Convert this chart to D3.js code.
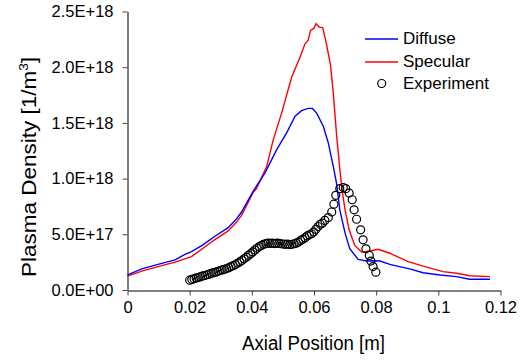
<!DOCTYPE html>
<html>
<head>
<meta charset="utf-8">
<script src="https://cdn.jsdelivr.net/npm/d3@7"></script>
<style>
  html, body { margin: 0; padding: 0; background: #fff; }
  svg { display: block; font-family: "Liberation Sans", Arial, sans-serif; }
</style>
</head>
<body>
<svg id="chart" width="521" height="360"></svg>
<script>
// ---- Data (density in units of 1E+18 1/m^3, position in m) ----
const xTickValues = [0, 0.02, 0.04, 0.06, 0.08, 0.1, 0.12];
const xTickLabels = ["0", "0.02", "0.04", "0.06", "0.08", "0.1", "0.12"];
const yTickValues = [0, 0.5, 1.0, 1.5, 2.0, 2.5];
const yTickLabels = ["0.0E+00", "5.0E+17", "1.0E+18", "1.5E+18", "2.0E+18", "2.5E+18"];

const diffuseX = [0, 0.0046, 0.0098, 0.0153, 0.0185, 0.0206, 0.024, 0.0265, 0.028, 0.0324, 0.0351, 0.0367, 0.0405,
  0.0442, 0.048, 0.0512, 0.0539, 0.056, 0.0581, 0.0595, 0.0608, 0.063, 0.0646, 0.0662, 0.0673, 0.0683, 0.070,
  0.0715, 0.0742, 0.0769, 0.079, 0.0812, 0.0844, 0.0875, 0.0908, 0.0951, 0.1005, 0.1059, 0.110, 0.1166];
const diffuseY = [0.135, 0.19, 0.23, 0.27, 0.32, 0.345, 0.40, 0.45, 0.48, 0.56, 0.64, 0.70, 0.89,
  1.05, 1.26, 1.41, 1.56, 1.61, 1.63, 1.63, 1.59, 1.47, 1.32, 1.11, 0.95, 0.72, 0.51,
  0.37, 0.275, 0.26, 0.262, 0.26, 0.23, 0.21, 0.19, 0.155, 0.135, 0.12, 0.096, 0.096];

const specularX = [0, 0.0046, 0.0098, 0.0153, 0.0206, 0.0265, 0.028, 0.0324, 0.0351, 0.0367, 0.0405, 0.0415,
  0.0448, 0.0469, 0.0496, 0.0528, 0.0555, 0.0571, 0.0581, 0.0589, 0.060, 0.0606, 0.0617, 0.0628, 0.064,
  0.0653, 0.0662, 0.0673, 0.0683, 0.069, 0.070, 0.0713, 0.0731, 0.0753, 0.078, 0.0806, 0.0844, 0.0875,
  0.0903, 0.0951, 0.1015, 0.1059, 0.110, 0.1166];
const specularY = [0.125, 0.17, 0.21, 0.25, 0.30, 0.42, 0.45, 0.53, 0.61, 0.67, 0.88, 0.91,
  1.11, 1.35, 1.59, 1.91, 2.09, 2.21, 2.24, 2.33, 2.35, 2.39, 2.36, 2.355, 2.21,
  2.02, 1.77, 1.38, 1.09, 0.90, 0.72, 0.54, 0.40, 0.34, 0.35, 0.365, 0.33, 0.29,
  0.255, 0.215, 0.165, 0.15, 0.128, 0.12];

const experimentX = [0.0200, 0.0207, 0.0214, 0.0221, 0.0228, 0.0235, 0.0242, 0.0249, 0.0256, 0.0263, 0.0270,
  0.0277, 0.0284, 0.0291, 0.0298, 0.0305, 0.0312, 0.0319, 0.0326, 0.0333, 0.0340, 0.0347, 0.0354, 0.0361,
  0.0368, 0.0375, 0.0382, 0.0389, 0.0396, 0.0403, 0.0410, 0.0417, 0.0424, 0.0431, 0.0438, 0.0445, 0.0452,
  0.0459, 0.0466, 0.0473, 0.0480, 0.0487, 0.0494, 0.0501, 0.0508, 0.0515, 0.0522, 0.0529, 0.0536, 0.0543,
  0.0550, 0.0557, 0.0564, 0.0571, 0.0578, 0.0585, 0.0592, 0.0599, 0.0606, 0.0613, 0.0620, 0.0627,
  0.0635, 0.0646, 0.0657, 0.0664, 0.0670, 0.0683, 0.0694, 0.0702, 0.0713, 0.0723, 0.0729, 0.0737,
  0.0750, 0.0758, 0.0767, 0.0778, 0.0783, 0.0790, 0.0799];
const experimentY = [0.088, 0.095, 0.100, 0.108, 0.112, 0.120, 0.126, 0.130, 0.137, 0.142, 0.150,
  0.156, 0.160, 0.168, 0.175, 0.180, 0.186, 0.192, 0.200, 0.210, 0.218, 0.228, 0.240, 0.252,
  0.265, 0.280, 0.295, 0.310, 0.326, 0.342, 0.360, 0.375, 0.390, 0.400, 0.410, 0.416, 0.420,
  0.418, 0.420, 0.417, 0.420, 0.418, 0.415, 0.412, 0.410, 0.412, 0.408, 0.410, 0.415, 0.420,
  0.430, 0.445, 0.455, 0.470, 0.485, 0.495, 0.505, 0.520, 0.545, 0.570, 0.590, 0.600,
  0.625, 0.650, 0.700, 0.770, 0.850, 0.910, 0.920, 0.910, 0.870, 0.810, 0.720, 0.635,
  0.540, 0.450, 0.370, 0.310, 0.260, 0.210, 0.160];

const seriesNames = ["Diffuse", "Specular", "Experiment"];
const seriesColors = ["#0000ff", "#ff0000", "#000000"];

// ---- Drawing ----
const svg = d3.select("#chart");
const x = d3.scaleLinear().domain([0, 0.12]).range([127.5, 500.5]);
const y = d3.scaleLinear().domain([0, 2.5]).range([290, 11.5]);

const tickFont = 16.5;

// Y axis
const yAxis = d3.axisLeft(y).tickValues(yTickValues)
  .tickFormat((d, i) => yTickLabels[i]).tickSize(5).tickSizeOuter(0).tickPadding(9);
const gy = svg.append("g").attr("transform", "translate(127.5,0)").call(yAxis);
gy.selectAll("text").attr("font-size", tickFont).attr("fill", "#000")
  .attr("font-family", "'Liberation Sans', Arial, sans-serif");
gy.select(".domain").attr("stroke", "#000").attr("stroke-width", 1);
gy.selectAll(".tick line").attr("stroke", "#444");

// X axis
const xAxis = d3.axisBottom(x).tickValues(xTickValues)
  .tickFormat((d, i) => xTickLabels[i]).tickSize(5).tickSizeOuter(0).tickPadding(6);
const gx = svg.append("g").attr("transform", "translate(0,290.5)").call(xAxis);
gx.selectAll("text").attr("font-size", tickFont).attr("fill", "#000")
  .attr("font-family", "'Liberation Sans', Arial, sans-serif");
gx.select(".domain").attr("stroke", "#000").attr("stroke-width", 1);
gx.selectAll(".tick line").attr("stroke", "#444");

// Lines
const line = d3.line().x(d => x(d[0])).y(d => y(d[1]));
const diffuse = diffuseX.map((v, i) => [v, diffuseY[i]]);
const specular = specularX.map((v, i) => [v, specularY[i]]);
const experiment = experimentX.map((v, i) => [v, experimentY[i]]);

svg.append("path").datum(specular).attr("d", line)
  .attr("fill", "none").attr("stroke", seriesColors[1]).attr("stroke-width", 1.4);
svg.append("path").datum(diffuse).attr("d", line)
  .attr("fill", "none").attr("stroke", seriesColors[0]).attr("stroke-width", 1.4);

svg.append("g").selectAll("circle").data(experiment).join("circle")
  .attr("cx", d => x(d[0])).attr("cy", d => y(d[1])).attr("r", 4)
  .attr("fill", "none").attr("stroke", seriesColors[2]).attr("stroke-width", 1.2);

// Axis titles
svg.append("text").attr("x", 313.5).attr("y", 349.5).attr("text-anchor", "middle")
  .attr("font-size", 20).attr("textLength", 143).attr("lengthAdjust", "spacingAndGlyphs")
  .text("Axial Position [m]");

const yt = svg.append("text").attr("transform", "translate(35.5,167) rotate(-90)")
  .attr("text-anchor", "middle").attr("font-size", 20)
  .attr("textLength", 220).attr("lengthAdjust", "spacingAndGlyphs");
yt.append("tspan").text("Plasma Density [1/m");
yt.append("tspan").attr("dy", -8).attr("font-size", 12).text("3");
yt.append("tspan").attr("dy", 8).text("]");

// Legend
const legendY = [39, 62, 83.5];
const legendBase = [43.5, 67, 89];
const lg = svg.append("g");
seriesNames.forEach((name, i) => {
  if (i < 2) {
    lg.append("line").attr("x1", 365).attr("x2", 398).attr("y1", legendY[i]).attr("y2", legendY[i])
      .attr("stroke", seriesColors[i]).attr("stroke-width", 1.4);
  } else {
    lg.append("circle").attr("cx", 381.7).attr("cy", legendY[i]).attr("r", 4)
      .attr("fill", "none").attr("stroke", seriesColors[i]).attr("stroke-width", 1.2);
  }
  lg.append("text").attr("x", 403).attr("y", legendBase[i]).attr("font-size", 17).text(name);
});
</script>
</body>
</html>
